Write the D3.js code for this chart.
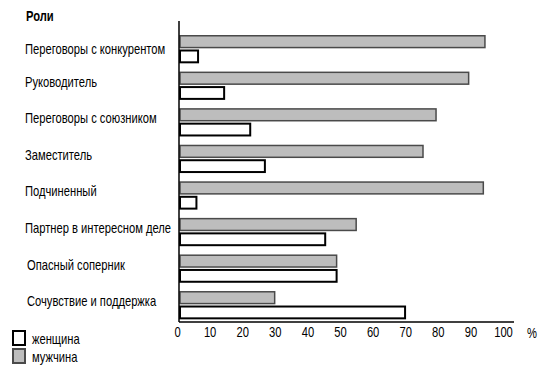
<!DOCTYPE html>
<html>
<head>
<meta charset="utf-8">
<script src="https://cdn.jsdelivr.net/npm/d3@7"></script>
<style>
  body { margin: 0; background: #fff; }
  svg text { font-family: "Liberation Sans", Arial, sans-serif; fill: #000; }
</style>
</head>
<body>
<svg id="chart" width="547" height="376"></svg>
<script>
// data
const roles = [
    'Переговоры с конкурентом',
    'Руководитель',
    'Переговоры с союзником',
    'Заместитель',
    'Подчиненный',
    'Партнер в интересном деле',
    'Опасный соперник',
    'Сочувствие и поддержка'
];
const male = [94, 89, 79, 75, 93.5, 54.5, 48.5, 29.5];
const female = [6, 14, 22, 26.5, 5.5, 45, 48.5, 69.5];
const xTicks = [0, 10, 20, 30, 40, 50, 60, 70, 80, 90, 100];
const legendLabels = ['женщина', 'мужчина'];

// no narrow font installed, so squeeze text horizontally
const narrow = 0.8;

const svg = d3.select('#chart');

const xScale = d3.scaleLinear().domain([0, 100]).range([179, 505]);

const yScale = d3.scaleBand()
    .domain(roles)
    .range([31, 323.6])
    .paddingInner(0.26)
    .paddingOuter(0.13);

const subScale = d3.scaleBand()
    .domain(['m', 'f'])
    .range([0, yScale.bandwidth()])
    .paddingInner(0.1);

const rows = roles.map((r, i) => ({role: r, m: male[i], f: female[i]}));

// title
svg.append('text')
    .attr('transform', `translate(26, 21) scale(${narrow}, 1)`)
    .attr('font-size', 14).attr('font-weight', 'bold')
    .text('Роли');

// category labels
svg.selectAll('.cat').data(rows)
    .enter().append('text')
        .attr('class', 'cat')
        .attr('transform', (d, i) =>
            `translate(${i >= 6 ? 27 : 25}, ${yScale(d.role) + yScale.bandwidth() / 2 - (i === 0 ? 0 : 4)}) scale(${narrow}, 1)`)
        .attr('dy', '0.35em')
        .attr('font-size', 14)
        .text(d => d.role);

// male bars (grey)
svg.selectAll('.m').data(rows)
    .enter().append('rect')
        .attr('class', 'm')
        .attr('x', xScale(0) + 1)
        .attr('y', d => yScale(d.role) + subScale('m'))
        .attr('width', d => xScale(d.m) - xScale(0) - 1.5)
        .attr('height', subScale.bandwidth() - 1)
        .attr('fill', '#bdbdbd')
        .attr('stroke', '#4a4a4a')
        .attr('stroke-width', 1.5);

// female bars (white)
svg.selectAll('.f').data(rows)
    .enter().append('rect')
        .attr('class', 'f')
        .attr('x', xScale(0) + 1)
        .attr('y', d => yScale(d.role) + subScale('f') + 0.5)
        .attr('width', d => xScale(d.f) - xScale(0) - 1.5)
        .attr('height', subScale.bandwidth() - 1)
        .attr('fill', '#fff')
        .attr('stroke', '#000')
        .attr('stroke-width', 2);

// axes lines
svg.append('line')
    .attr('x1', 179).attr('x2', 179)
    .attr('y1', 21).attr('y2', 322)
    .attr('stroke', '#000').attr('stroke-width', 1.5);
svg.append('line')
    .attr('x1', 179).attr('x2', 514)
    .attr('y1', 322).attr('y2', 322)
    .attr('stroke', '#000').attr('stroke-width', 1.5);

const xAxis = d3.axisBottom(xScale)
    .tickValues(xTicks)
    .tickSize(0)
    .tickPadding(5);

const xAxisG = svg.append('g')
    .attr('transform', 'translate(-2, 322)')
    .call(xAxis);
xAxisG.select('.domain').remove();
xAxisG.selectAll('text')
    .attr('font-size', 14)
    .attr('font-family', '"Liberation Sans", Arial, sans-serif')
    .attr('fill', '#000')
    .attr('transform', `scale(${narrow}, 1)`);

svg.append('text')
    .attr('transform', `translate(532, 338) scale(${narrow}, 1)`)
    .attr('text-anchor', 'middle')
    .attr('font-size', 14)
    .text('%');

// legend
const legend = svg.selectAll('.legend').data(legendLabels)
    .enter().append('g')
        .attr('class', 'legend')
        .attr('transform', (d, i) => `translate(13, ${331 + i * 18})`);
legend.append('rect')
    .attr('width', 12).attr('height', 14)
    .attr('fill', (d, i) => i === 0 ? '#fff' : '#bdbdbd')
    .attr('stroke', (d, i) => i === 0 ? '#000' : '#4a4a4a')
    .attr('stroke-width', 2);
legend.append('text')
    .attr('transform', `translate(19, 8) scale(${narrow}, 1)`)
    .attr('dy', '0.35em')
    .attr('font-size', 14)
    .text(d => d);
</script>
</body>
</html>
